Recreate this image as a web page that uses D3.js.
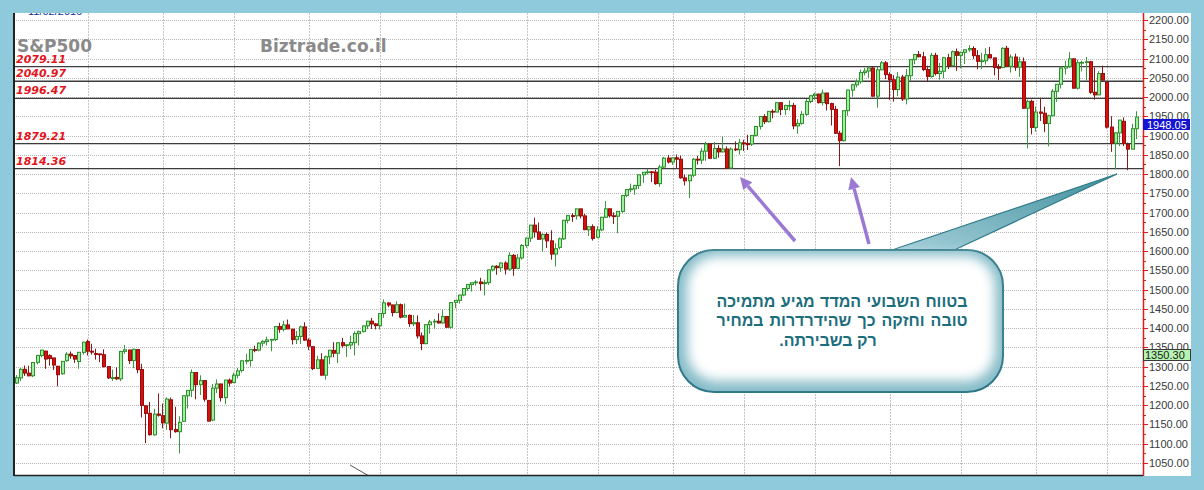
<!DOCTYPE html>
<html><head><meta charset="utf-8">
<script src="https://cdn.jsdelivr.net/npm/d3@7"></script>
<style>html,body{margin:0;padding:0;background:#8fcadc;overflow:hidden}svg{display:block}</style>
</head><body>
<svg id="c" width="1204" height="490"></svg>
<script>
// ---- data: weekly S&P 500 candles, week of 2011-01-03 .. week of 2016-02-22 ----
const firstWeek = new Date(2011, 0, 3), lastWeek = new Date(2016, 1, 22);
const open = [
1257.6,1270.8,1293.2,1283.3,1276.5,1311.2,1329.0,1340.4,1328.6,1322.7,1301.2,1281.7,1315.5,1332.8,1329.0,1313.4,1337.1,1365.2,1340.2,1334.1,
1333.1,1331.1,1300.3,1271.3,1272.2,1268.4,1339.7,1343.3,1315.9,1344.3,1292.6,1198.5,1179.0,1123.2,1177.0,1173.0,1153.5,1214.0,1136.9,1131.2,
1158.2,1224.5,1238.7,1284.9,1253.2,1263.9,1212.5,1161.4,1244.3,1255.1,1219.7,1265.0,
1258.9,1277.8,1290.2,1315.3,1316.2,1344.3,1343.1,1361.2,1365.2,1369.6,1370.8,1404.2,1397.1,1408.5,1397.5,1370.3,1378.5,1403.3,1369.0,1351.9,
1295.7,1317.8,1278.0,1325.7,1342.4,1334.9,1362.3,1354.7,1356.5,1362.3,1385.9,1391.0,1405.9,1418.1,1411.1,1406.5,1438.1,1465.4,1460.3,1440.9,
1460.9,1428.8,1433.2,1411.3,1414.0,1379.9,1359.9,1409.0,1416.3,1418.1,1413.5,1430.2,
1402.4,1466.5,1472.1,1486.0,1503.0,1513.2,1517.9,1519.8,1515.6,1518.2,1551.2,1560.7,1556.9,1569.2,1553.3,1588.9,1555.3,1582.3,1614.4,1633.7,
1667.5,1649.6,1631.7,1643.4,1626.7,1592.4,1609.8,1631.9,1680.0,1692.1,1691.7,1709.7,1691.4,1655.3,1663.5,1635.9,1655.2,1688.0,1709.9,1691.8,
1690.5,1703.2,1744.5,1759.8,1761.6,1770.6,1798.2,1804.8,1805.8,1805.1,1775.3,1818.3,
1841.4,1831.4,1842.3,1838.7,1790.1,1782.7,1797.0,1838.6,1836.3,1859.5,1878.0,1841.1,1866.5,1857.6,1865.1,1815.7,1864.9,1863.4,1881.1,1878.5,
1877.9,1900.5,1923.6,1949.4,1936.2,1962.9,1961.0,1985.4,1967.6,1978.2,1978.3,1925.2,1931.6,1955.1,1988.4,2003.4,2007.7,1985.5,2010.4,1982.9,
1967.9,1906.1,1886.8,1964.6,2018.1,2031.9,2039.8,2063.5,2067.6,2075.4,2002.3,2070.7,
2088.8,2058.2,2044.8,2019.4,2051.8,1995.0,2055.5,2097.0,2110.3,2104.5,2071.3,2053.4,2108.1,2061.0,2067.0,2102.1,2081.2,2117.7,2108.3,2116.1,
2122.7,2126.1,2107.4,2092.8,2094.1,2110.0,2101.5,2076.8,2076.6,2126.6,2079.7,2103.8,2077.6,2091.5,1970.9,1988.9,1921.2,1961.1,1958.0,1931.3,
1951.4,2014.9,2033.1,2075.2,2079.4,2099.2,2023.0,2089.2,2090.1,2091.7,2012.4,2005.6,2061.0,
2038.2,1922.0,1880.3,1906.9,1936.9,1877.1,1864.8,1917.8];
const high = [
1278.2,1296.4,1303.0,1302.7,1311.0,1330.8,1344.1,1341.5,1332.3,1323.0,1302.0,1314.2,1337.8,1339.5,1330.0,1338.0,1364.6,1370.6,1359.4,1346.8,
1334.0,1345.2,1301.0,1292.5,1298.6,1341.0,1356.5,1344.0,1347.0,1346.0,1307.4,1199.0,1208.5,1190.7,1230.7,1204.4,1220.4,1220.1,1195.9,1171.4,
1224.6,1239.0,1292.7,1285.5,1277.6,1264.5,1213.0,1255.0,1267.1,1256.0,1265.4,1269.4,
1284.6,1296.8,1315.5,1333.5,1345.3,1354.3,1363.4,1368.9,1378.0,1372.0,1405.9,1414.0,1419.2,1422.4,1398.0,1392.8,1406.6,1415.3,1373.9,1352.5,
1328.5,1334.9,1329.0,1343.3,1363.5,1362.2,1374.8,1358.0,1380.4,1391.7,1394.2,1406.1,1418.7,1426.7,1413.5,1438.0,1474.5,1467.1,1461.0,1470.0,
1464.0,1464.0,1435.5,1434.3,1433.4,1388.8,1409.2,1421.6,1423.7,1438.6,1448.0,1430.7,
1467.9,1472.8,1486.5,1503.3,1514.4,1518.3,1524.7,1530.9,1525.8,1552.5,1563.6,1563.6,1570.3,1573.7,1597.4,1592.6,1592.6,1618.5,1635.0,1667.5,
1687.2,1674.2,1646.5,1648.7,1654.2,1620.1,1635.5,1680.2,1693.1,1698.4,1709.7,1710.0,1696.8,1664.9,1669.5,1664.8,1689.0,1729.9,1710.5,1700.7,
1703.4,1745.3,1759.8,1775.2,1771.8,1798.2,1804.8,1813.6,1808.0,1811.5,1823.8,1844.9,
1849.4,1843.2,1850.8,1848.1,1798.8,1798.0,1841.6,1847.5,1867.9,1883.6,1879.0,1883.0,1875.2,1897.3,1872.0,1869.6,1884.9,1891.3,1889.1,1902.2,
1901.3,1924.0,1949.4,1955.6,1963.9,1968.2,1985.6,1985.6,1979.9,1991.4,1984.9,1942.9,1964.0,1994.8,2005.0,2011.2,2008.5,2019.3,2011.0,1985.2,
1977.1,1912.1,1965.3,2018.5,2034.3,2046.2,2071.5,2075.8,2079.5,2077.9,2077.9,2093.6,
2093.6,2064.4,2056.9,2064.6,2057.6,2072.4,2097.5,2111.0,2119.6,2117.5,2081.4,2114.9,2114.9,2088.5,2102.6,2111.9,2120.9,2125.9,2117.7,2123.0,
2134.7,2131.9,2121.9,2115.0,2126.6,2130.0,2102.2,2085.7,2129.0,2132.8,2110.6,2112.7,2104.2,2102.7,1993.5,1993.5,1975.0,1996.5,1974.8,1953.9,
2020.9,2033.5,2079.7,2094.3,2116.5,2100.0,2097.0,2094.1,2104.3,2093.8,2076.7,2067.0,2081.6,
2038.5,1950.3,1908.9,1940.5,1947.2,1881.6,1930.7,1962.96];
const low = [
1255.0,1262.7,1276.0,1275.1,1273.0,1306.0,1324.6,1294.3,1302.6,1291.0,1249.1,1279.0,1313.0,1320.4,1309.9,1294.7,1331.6,1329.2,1331.4,1318.5,
1311.8,1297.9,1268.2,1262.9,1265.6,1262.7,1333.2,1307.2,1295.9,1282.9,1168.1,1101.5,1121.1,1121.1,1170.3,1140.1,1136.1,1114.2,1128.6,1074.8,
1157.0,1191.5,1221.1,1215.4,1226.6,1209.1,1158.7,1158.7,1231.5,1209.5,1202.4,1248.6,
1257.0,1269.4,1285.0,1306.1,1300.5,1337.5,1340.0,1352.3,1354.9,1340.0,1366.7,1388.1,1391.6,1397.6,1357.4,1358.8,1358.8,1367.4,1343.1,1291.0,
1294.0,1277.3,1266.7,1306.6,1324.4,1309.3,1349.2,1325.4,1345.1,1329.2,1354.7,1389.3,1397.3,1398.0,1397.0,1396.6,1426.6,1454.6,1430.5,1439.0,
1425.5,1427.0,1403.3,1405.2,1373.0,1343.4,1358.0,1385.4,1398.1,1411.9,1412.0,1401.6,
1398.1,1451.6,1463.8,1482.6,1496.3,1495.0,1510.7,1497.3,1485.0,1512.4,1547.4,1538.6,1546.2,1539.5,1548.6,1536.0,1552.9,1577.8,1609.0,1623.7,
1635.5,1630.7,1598.2,1608.1,1577.7,1560.3,1604.6,1629.0,1672.1,1676.0,1682.0,1684.9,1654.2,1639.4,1627.5,1633.4,1652.0,1686.0,1687.5,1670.4,
1646.5,1699.2,1740.0,1752.7,1746.2,1761.6,1777.2,1799.0,1779.2,1772.3,1767.0,1815.0,
1827.7,1823.7,1815.5,1788.0,1770.5,1737.9,1791.8,1824.6,1826.2,1834.4,1839.6,1839.0,1842.9,1856.0,1814.4,1814.4,1859.7,1850.6,1859.8,1862.4,
1872.8,1898.0,1915.6,1930.0,1933.8,1944.7,1960.9,1952.9,1952.9,1965.0,1916.4,1904.8,1928.3,1951.0,1984.0,1993.1,1983.2,1978.6,1965.1,1926.0,
1904.0,1820.7,1884.0,1951.4,2001.0,2025.0,2034.5,2056.2,2049.6,2001.0,1972.6,2069.3,
2046.5,1992.4,1988.1,2002.2,1990.0,1980.9,2041.9,2085.4,2103.3,2067.3,2039.7,2050.0,2055.9,2045.5,2048.4,2072.4,2080.0,2067.9,2074.3,2085.6,
2117.5,2099.1,2072.1,2072.5,2084.0,2101.2,2056.3,2044.0,2075.0,2077.7,2063.5,2067.9,2052.1,1970.0,1867.0,1903.1,1910.2,1937.9,1908.7,1871.9,
1950.0,1987.5,2022.0,2058.8,2076.0,2022.0,2019.4,2066.7,2042.4,2008.3,1993.3,2005.0,2043.6,
1918.5,1857.8,1812.3,1872.7,1872.7,1810.1,1864.0,1891.0];
const close = [
1271.5,1293.2,1283.4,1276.3,1310.9,1329.2,1343.0,1319.9,1321.2,1304.3,1279.2,1313.8,1332.4,1328.2,1319.7,1337.4,1363.6,1340.2,1337.8,1333.3,
1331.1,1300.2,1271.0,1271.5,1268.5,1339.7,1343.8,1316.1,1345.0,1292.3,1199.4,1178.8,1123.5,1176.8,1174.0,1154.2,1216.0,1136.4,1131.4,1155.5,
1224.6,1238.3,1285.1,1253.2,1263.9,1215.7,1158.7,1244.3,1255.2,1219.7,1265.3,1257.6,
1277.8,1289.1,1315.4,1316.3,1344.9,1342.6,1361.2,1365.7,1369.6,1370.9,1404.2,1397.1,1408.5,1398.1,1370.3,1378.5,1403.4,1369.1,1353.4,1295.2,
1317.8,1278.0,1325.7,1342.8,1335.0,1362.2,1354.7,1356.8,1362.7,1386.0,1391.0,1405.9,1418.2,1411.1,1406.6,1437.9,1465.8,1460.2,1440.7,1460.9,
1428.6,1433.2,1411.9,1414.2,1379.9,1359.9,1409.2,1416.2,1418.1,1413.6,1430.2,1402.4,
1466.5,1472.1,1486.0,1503.0,1513.2,1517.9,1519.8,1515.6,1518.2,1551.2,1560.7,1556.9,1569.2,1553.3,1588.9,1555.3,1582.2,1614.4,1633.7,1667.5,
1649.6,1630.7,1643.4,1626.7,1592.4,1606.3,1631.9,1680.2,1692.1,1691.7,1709.7,1691.4,1655.8,1663.5,1633.0,1655.2,1688.0,1709.9,1691.8,1690.5,
1703.2,1744.5,1759.8,1761.6,1770.6,1798.2,1804.8,1805.8,1805.1,1775.3,1818.3,1841.4,
1831.4,1842.4,1838.7,1790.3,1782.6,1797.0,1838.6,1836.3,1859.5,1878.0,1841.1,1866.5,1857.6,1865.1,1815.7,1864.9,1863.4,1881.1,1878.5,1877.9,
1900.5,1923.6,1949.4,1936.2,1962.9,1961.0,1985.4,1967.6,1978.2,1978.3,1925.2,1931.6,1955.1,1988.4,2003.4,2007.7,1985.5,2010.4,1982.9,1967.9,
1906.1,1886.8,1964.6,2018.1,2031.9,2039.8,2063.5,2067.6,2075.4,2002.3,2070.7,2088.8,
2058.2,2044.8,2019.4,2051.8,1995.0,2055.5,2097.0,2110.3,2104.5,2071.3,2053.4,2108.1,2061.0,2067.0,2102.1,2081.2,2117.7,2108.3,2116.1,2122.7,
2126.1,2107.4,2092.8,2094.1,2110.0,2101.5,2076.8,2076.6,2126.6,2079.7,2103.8,2077.6,2091.5,1970.9,1988.9,1921.2,1961.1,1958.0,1931.3,1951.4,
2014.9,2033.1,2075.2,2079.4,2099.2,2023.0,2089.2,2090.1,2091.7,2012.4,2005.6,2061.0,2043.9,
1922.0,1880.3,1906.9,1940.2,1880.1,1864.8,1917.8,1948.05];

const levels = [2079.11, 2040.97, 1996.47, 1879.21, 1814.36];
const yTickValues = [1050,1100,1150,1200,1250,1300,1350,1400,1450,1500,1550,1600,1650,1700,1750,1800,1850,1900,1950,2000,2050,2100,2150,2200];
const gridMonths = [0, 4, 8];            // vertical grid: Jan / May / Sep
const markerPrice = 1350.30;
const titleText = "S&P500", siteText = "Biztrade.co.il", topText = "11/02/2016";
const noteLines = ["בטווח השבועי המדד מגיע מתמיכה", "טובה וחזקה כך שהידרדרות במחיר", "רק בשבירתה."];

// ---- layout ----
const svg = d3.select("#c");
const W = 1204, H = 490;
const P = {left: 14, right: 1143, top: 13, bottom: 475.5};
const weeks = d3.timeMonday.range(firstWeek, d3.timeDay.offset(lastWeek, 1));
const n = weeks.length;
const x = d3.scaleLinear().domain([0, n - 1]).range([16.7, 1136.7]);
const y = d3.scaleLinear().domain([1050, 2200]).range([463, 20]);

svg.append("rect").attr("width", W).attr("height", H).attr("fill", "#8fcadc");
svg.append("rect").attr("x", 14).attr("y", 13).attr("width", 1177).attr("height", 463).attr("fill", "#fff");

const defs = svg.append("defs");
defs.append("clipPath").attr("id", "plotclip").append("rect")
  .attr("x", P.left).attr("y", P.top).attr("width", P.right - P.left).attr("height", P.bottom - P.top);
defs.append("clipPath").attr("id", "panelclip").append("rect")
  .attr("x", 14).attr("y", 13).attr("width", 1177).attr("height", 463);

// partially hidden text at very top
svg.append("text").attr("clip-path", "url(#panelclip)").attr("x", 28).attr("y", 14.5)
  .attr("font-family", "Liberation Sans, Arial").attr("font-size", 11).attr("fill", "#1a2a9a").text(topText);

const plot = svg.append("g").attr("clip-path", "url(#plotclip)");

// horizontal grid (dotted)
plot.append("g").selectAll("line").data(yTickValues).join("line")
  .attr("x1", P.left).attr("x2", P.right)
  .attr("y1", d => Math.round(y(d)) + 0.5).attr("y2", d => Math.round(y(d)) + 0.5)
  .attr("stroke", "#b9b9b9").attr("stroke-width", 1).attr("stroke-dasharray", "1,1");

// vertical grid at first week of Jan/May/Sep
const vIdx = d3.range(1, n).filter(i => gridMonths.includes(weeks[i].getMonth()) && weeks[i - 1].getMonth() !== weeks[i].getMonth());
plot.append("g").selectAll("line").data(vIdx).join("line")
  .attr("x1", i => Math.round(x(i)) + 0.5).attr("x2", i => Math.round(x(i)) + 0.5)
  .attr("y1", P.top).attr("y2", P.bottom)
  .attr("stroke", "#c4c4c4").attr("stroke-width", 1).attr("stroke-dasharray", "2,1");

// support / resistance lines
plot.append("g").selectAll("line").data(levels).join("line")
  .attr("x1", P.left).attr("x2", P.right)
  .attr("y1", d => y(d)).attr("y2", d => y(d))
  .attr("stroke", "#3c3c3c").attr("stroke-width", 1.3);

// candles
const candles = plot.append("g").selectAll("g").data(d3.range(n)).join("g");
const up = i => close[i] >= open[i];
candles.append("line")
  .attr("x1", i => Math.round(x(i)) - 0.5).attr("x2", i => Math.round(x(i)) - 0.5)
  .attr("y1", i => y(high[i])).attr("y2", i => y(low[i]))
  .attr("stroke", i => up(i) ? "#3b9a3b" : "#8a1a1a").attr("stroke-width", 1);
candles.append("rect")
  .attr("x", i => Math.round(x(i)) - 1.5).attr("width", 3)
  .attr("y", i => y(Math.max(open[i], close[i])))
  .attr("height", i => Math.max(0.8, Math.abs(y(open[i]) - y(close[i]))))
  .attr("fill", i => up(i) ? "#9ef09e" : "#d80f0f")
  .attr("stroke", i => up(i) ? "#2f8f2f" : "#9a0c0c").attr("stroke-width", 1);

// small leftover trend line at bottom
plot.append("line").attr("x1", 350).attr("y1", 465).attr("x2", 369).attr("y2", 476)
  .attr("stroke", "#555").attr("stroke-width", 1);

// level labels
svg.append("g").selectAll("text").data(levels).join("text")
  .attr("x", 16).attr("y", d => y(d) - 4)
  .attr("font-family", "DejaVu Sans, Verdana").attr("font-size", 11)
  .attr("font-weight", "bold").attr("font-style", "italic").attr("fill", "#e3141c")
  .text(d => d.toFixed(2));

// titles
svg.append("text").attr("x", 17).attr("y", 52).attr("font-family", "DejaVu Sans, Verdana")
  .attr("font-size", 17).attr("font-weight", "bold").attr("fill", "#8a8a8a").text(titleText);
svg.append("text").attr("x", 260).attr("y", 52).attr("font-family", "DejaVu Sans, Verdana")
  .attr("font-size", 17).attr("font-weight", "bold").attr("fill", "#8a8a8a").text(siteText);

// frame lines
svg.append("line").attr("x1", 14).attr("x2", 14).attr("y1", 13).attr("y2", 476).attr("stroke", "#222").attr("stroke-width", 2);
svg.append("line").attr("x1", 14).attr("x2", P.right).attr("y1", 475.5).attr("y2", 475.5).attr("stroke", "#222").attr("stroke-width", 1.5);

// right axis
const axisX = 1143.5;
svg.append("line").attr("x1", axisX).attr("x2", axisX).attr("y1", 13).attr("y2", 476).attr("stroke", "#e21b1b").attr("stroke-width", 1.5);
const minorTicks = d3.range(1050, 2201, 25).filter(v => v % 50 !== 0);
svg.append("g").selectAll("line").data(minorTicks).join("line")
  .attr("x1", axisX).attr("x2", axisX + 2.5).attr("y1", d => Math.round(y(d)) + 0.5).attr("y2", d => Math.round(y(d)) + 0.5)
  .attr("stroke", "#e21b1b");
svg.append("g").selectAll("line").data(yTickValues).join("line")
  .attr("x1", axisX).attr("x2", axisX + 4.5).attr("y1", d => Math.round(y(d)) + 0.5).attr("y2", d => Math.round(y(d)) + 0.5)
  .attr("stroke", "#e21b1b");
svg.append("g").selectAll("text").data(yTickValues).join("text")
  .attr("x", 1149).attr("y", d => y(d) + 4)
  .attr("font-family", "Liberation Sans, Arial").attr("font-size", 11).attr("fill", "#3a3a3a")
  .text(d => d.toFixed(2));

// price boxes
const lastPrice = close[n - 1];
const pb = svg.append("g");
pb.append("rect").attr("x", 1143).attr("y", Math.round(y(lastPrice)) + 2).attr("width", 47).attr("height", 11).attr("fill", "#1414d2");
pb.append("text").attr("x", 1147).attr("y", Math.round(y(lastPrice)) + 11.5)
  .attr("font-family", "Liberation Sans, Arial").attr("font-size", 11).attr("fill", "#fff").text(lastPrice.toFixed(2));
pb.append("rect").attr("x", 1143.5).attr("y", Math.round(y(markerPrice)) + 2.5).attr("width", 47).attr("height", 11)
  .attr("fill", "#b6f2b0").attr("stroke", "#3a3a3a").attr("stroke-width", 1);
pb.append("text").attr("x", 1145).attr("y", Math.round(y(markerPrice)) + 12)
  .attr("font-family", "Liberation Sans, Arial").attr("font-size", 11).attr("fill", "#1a1a1a").text(markerPrice.toFixed(2));

// purple arrows
const arrows = [[795, 241, 740, 177], [869, 244, 851, 177]];
const ag = svg.append("g");
arrows.forEach(([x1, y1, x2, y2]) => {
  const ang = Math.atan2(y2 - y1, x2 - x1), L = 12, Wd = 6;
  const bx = x2 - L * Math.cos(ang), by = y2 - L * Math.sin(ang);
  ag.append("line").attr("x1", x1).attr("y1", y1).attr("x2", bx).attr("y2", by)
    .attr("stroke", "#9b79d2").attr("stroke-width", 3.5);
  const px = -Math.sin(ang), py = Math.cos(ang);
  ag.append("path").attr("d", `M${x2},${y2}L${bx + px * Wd},${by + py * Wd}L${bx - px * Wd},${by - py * Wd}Z`).attr("fill", "#9b79d2");
});

// callout
const tailGrad = defs.append("linearGradient").attr("id", "tailg").attr("x1", "0").attr("y1", "1").attr("x2", "1").attr("y2", "0");
tailGrad.append("stop").attr("offset", "0").attr("stop-color", "#a8d2dc");
tailGrad.append("stop").attr("offset", "1").attr("stop-color", "#3f8e9c");
const blur = defs.append("filter").attr("id", "soft").attr("x", "-20%").attr("y", "-20%").attr("width", "140%").attr("height", "140%");
blur.append("feGaussianBlur").attr("stdDeviation", 6);
const co = svg.append("g");
co.append("path").attr("d", "M886,252L1117,174L950,252Z").attr("fill", "url(#tailg)").attr("stroke", "#2e7b8a").attr("stroke-width", 1.2);
co.append("rect").attr("x", 678).attr("y", 250).attr("width", 325).attr("height", 142).attr("rx", 36)
  .attr("fill", "#86bcc8").attr("stroke", "#2c7686").attr("stroke-width", 2);
co.append("rect").attr("x", 687).attr("y", 256).attr("width", 308).attr("height", 125).attr("rx", 30)
  .attr("fill", "#ffffff").attr("filter", "url(#soft)");
const noteY = [307, 326, 346];
noteLines.forEach((t, k) => {
  const tx = co.append("text").attr("x", k < 2 ? 842 : 828).attr("y", noteY[k]).attr("text-anchor", "middle")
    .attr("direction", "rtl").attr("font-family", "Liberation Sans, Arial").attr("font-size", 16)
    .attr("font-weight", "bold").attr("fill", "#1c6e7c").text(t);
  if (k < 2) {
    const w = tx.node().getComputedTextLength();
    const spaces = (t.match(/ /g) || []).length;
    if (spaces) tx.attr("word-spacing", ((251 - w) / spaces).toFixed(2));
  }
});
</script>
</body></html>
